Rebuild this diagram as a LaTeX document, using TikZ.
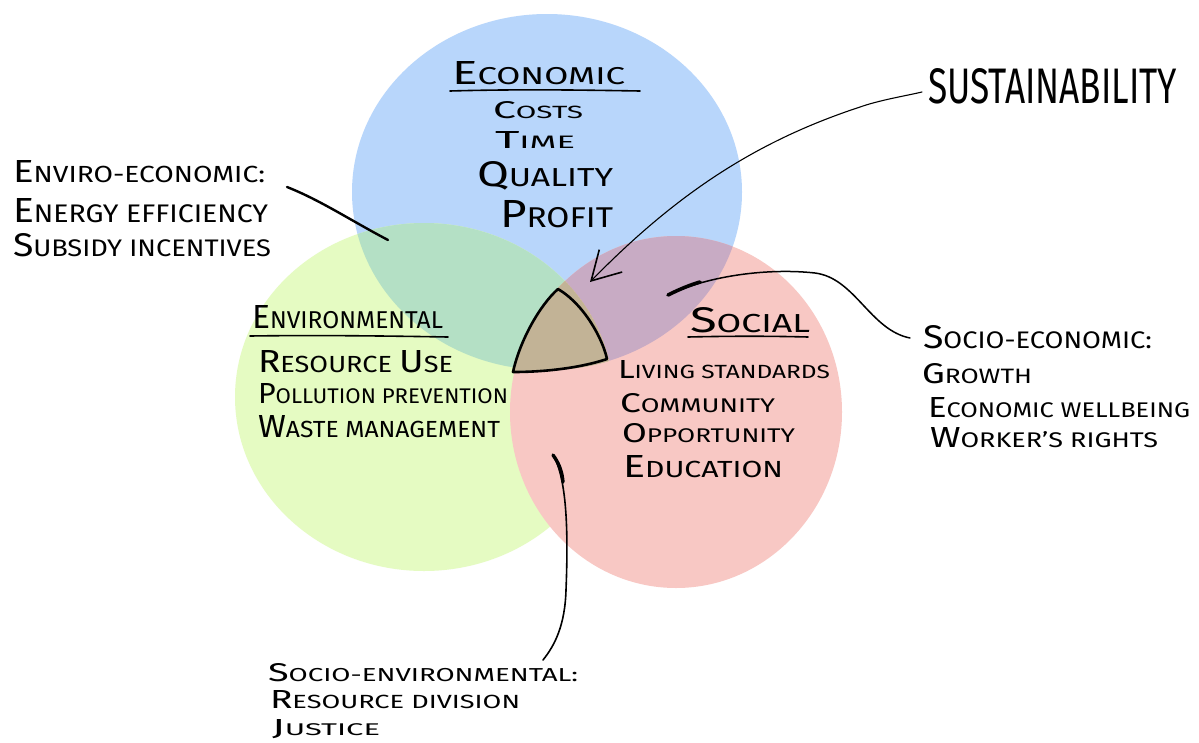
\documentclass[tikz,border=0pt]{standalone}
\usepackage{fontspec}
\setmainfont{Fira Sans}
\usepackage{graphicx}
\usetikzlibrary{arrows.meta}
\definecolor{ecoBlue}{RGB}{184,214,251}
\definecolor{envGreen}{RGB}{229,251,194}
\definecolor{socRed}{RGB}{248,200,196}
\definecolor{blueGreen}{RGB}{180,224,197}
\definecolor{blueRed}{RGB}{200,171,196}
\definecolor{greenRed}{RGB}{230,199,150}
\definecolor{centreTan}{RGB}{194,179,150}
\DeclareRobustCommand\hwB{\fontsize{10}{12}\selectfont}
\newcommand\hw[4]{\resizebox{#1pt}{#2pt}{{\hwB #3}{\fontsize{7.3}{8}\selectfont\MakeUppercase{#4}}}}
\tikzset{
  lbl/.style={anchor=base west, inner sep=0pt, outer sep=0pt},
  pen/.style={draw=black, line width=1.8pt, line cap=round, line join=round},
  thinpen/.style={draw=black, line width=1.1pt, line cap=round},
  uline/.style={draw=black, line width=1.6pt, line cap=round},
}
\begin{document}
\begin{tikzpicture}[x=1pt,y=-1pt]
\path[use as bounding box, fill=white] (0,0) rectangle (1199,742);
% circles
\fill[ecoBlue] (547,192) ellipse [x radius=195, y radius=178];
\fill[envGreen] (424,397) ellipse [x radius=189, y radius=174];
\fill[socRed] (676,412) ellipse [x radius=166, y radius=176];
\begin{scope}
  \clip (547,192) ellipse [x radius=195, y radius=178];
  \fill[blueGreen] (424,397) ellipse [x radius=189, y radius=174];
  \fill[blueRed] (676,412) ellipse [x radius=166, y radius=176];
  \clip (424,397) ellipse [x radius=189, y radius=174];
  \fill[centreTan] (676,412) ellipse [x radius=166, y radius=176];
\end{scope}
\begin{scope}
  \clip (424,397) ellipse [x radius=189, y radius=174];
  \clip (676,412) ellipse [x radius=166, y radius=176];
  \fill[greenRed] (547,192) ellipse [x radius=195, y radius=178];
  \clip (547,192) ellipse [x radius=195, y radius=178];
  \fill[centreTan] (424,397) ellipse [x radius=189, y radius=174];
\end{scope}
% central region
\draw[line width=2.6pt, line join=round, fill=centreTan]
  (558,289) .. controls (540,305) and (520,340) .. (513,372)
  .. controls (545,372) and (580,368) .. (607,359)
  .. controls (603,340) and (585,305) .. (558,289) -- cycle;

% Economic
\node[lbl] (ecoH) at (452,84) {\hw{173}{23}{E}{conomic}};
\draw[uline] (450,91) .. controls (520,89) and (580,90) .. (640,91);
\node[lbl] (costs) at (493,118) {\hw{90}{17}{C}{osts}};
\node[lbl] (time) at (495,148) {\hw{80}{17}{T}{ime}};
\node[lbl] (quality) at (477,186) {\hw{136}{25}{Q}{uality}};
\node[lbl] (profit) at (500,227) {\hw{113}{27}{P}{rofit}};

% Environmental
\node[lbl] (envH) at (252,328) {\hw{191}{23}{E}{nvironmental}};
\draw[uline] (250,336) .. controls (320,335) and (390,336) .. (448,337);
\node[lbl] (res) at (258,372) {\hw{195}{22}{R}{esource {\hwB U}se}};
\node[lbl] (poll) at (258,403) {\hw{250}{20}{P}{ollution prevention}};
\node[lbl] (waste) at (258,437) {\hw{242}{22}{W}{aste management}};

% Social
\node[lbl] (socH) at (690,332) {\hw{120}{25}{S}{ocial}};
\draw[uline] (688,337) .. controls (730,336) and (770,336) .. (808,337);
\node[lbl] (living) at (618,378) {\hw{212}{18}{L}{iving standards}};
\node[lbl] (comm) at (620,412) {\hw{155}{19}{C}{ommunity}};
\node[lbl] (opp) at (622,442) {\hw{173}{19}{O}{pportunity}};
\node[lbl] (edu) at (623,477) {\hw{160}{22}{E}{ducation}};

% Enviro-economic
\node[lbl] (ee1) at (13,182) {\hw{252}{22}{E}{nviro-economic:}};
\node[lbl] (ee2) at (13,222) {\hw{255}{24}{E}{nergy efficiency}};
\node[lbl] (ee3) at (13,256) {\hw{258}{23}{S}{ubsidy incentives}};

% Sustainability
\node[lbl] (sust) at (928,103) {\resizebox{249pt}{35pt}{\fontsize{10}{12}\selectfont SUSTAINABILITY}};

% Socio-economic
\node[lbl] (se1) at (923,348) {\hw{229}{23}{S}{ocio-economic:}};
\node[lbl] (se2) at (922,383) {\hw{110}{20}{G}{rowth}};
\node[lbl] (se3) at (928,417) {\hw{262}{20}{E}{conomic wellbeing}};
\node[lbl] (se4) at (930,447) {\hw{228}{20}{W}{orker's rights}};

% Socio-environmental
\node[lbl] (sv1) at (268,681) {\hw{310}{18}{S}{ocio-environmental:}};
\node[lbl] (sv2) at (270,708) {\hw{250}{18}{R}{esource division}};
\node[lbl] (sv3) at (272,735) {\hw{108}{16}{J}{ustice}};

% connector end points
\coordinate (eeS) at (287,187);
\coordinate (eeE) at (388,240);
\coordinate (suS) at (922,92);
\coordinate (suE) at (590,282);
\coordinate (seS) at (668,295);
\coordinate (seM) at (815,273);
\coordinate (seE) at (910,338);
\coordinate (svS) at (553,455);
\coordinate (svM) at (566,590);
\coordinate (svE) at (543,660);

% connectors
\draw[pen, line width=2.4pt] (eeS) .. controls (320,200) and (350,220) .. (eeE);
\draw[thinpen, -{Straight Barb[length=28pt,width=32pt,line width=1.6pt]}]
  (suS) .. controls (905,96) and (880,100) .. (860,107)
  .. controls (760,140) and (680,190) .. (suE);
\draw[pen, line width=1.5pt] (seS) .. controls (710,275) and (770,268) .. (seM)
  .. controls (855,278) and (870,330) .. (seE);
\draw[pen, line width=3.6pt] (seS) .. controls (680,289) and (690,285) .. (700,282);
\draw[pen, line width=1.6pt] (svS) .. controls (568,480) and (568,540) .. (svM)
  .. controls (565,625) and (555,645) .. (svE);
\draw[pen, line width=3.4pt] (svS) .. controls (558,462) and (562,470) .. (563,482);
\end{tikzpicture}
\end{document}
